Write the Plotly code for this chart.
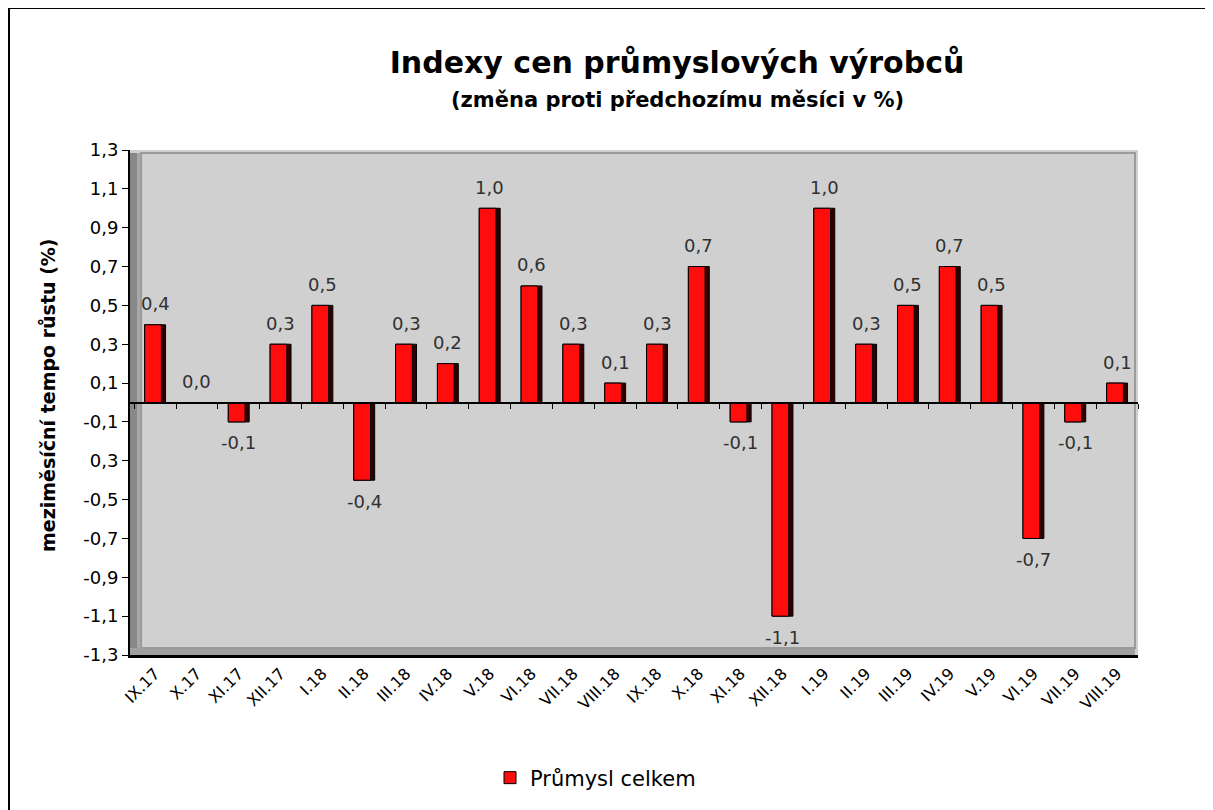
import plotly.graph_objects as go

categories = ["IX.17", "X.17", "XI.17", "XII.17", "I.18", "II.18", "III.18", "IV.18",
              "V.18", "VI.18", "VII.18", "VIII.18", "IX.18", "X.18", "XI.18", "XII.18",
              "I.19", "II.19", "III.19", "IV.19", "V.19", "VI.19", "VII.19", "VIII.19"]
values = [0.4, 0.0, -0.1, 0.3, 0.5, -0.4, 0.3, 0.2, 1.0, 0.6, 0.3, 0.1,
          0.3, 0.7, -0.1, -1.1, 1.0, 0.3, 0.5, 0.7, 0.5, -0.7, -0.1, 0.1]
ytick_vals = [1.3, 1.1, 0.9, 0.7, 0.5, 0.3, 0.1, -0.1, -0.3, -0.5, -0.7, -0.9, -1.1, -1.3]
ytick_text = ["1,3", "1,1", "0,9", "0,7", "0,5", "0,3", "0,1", "-0,1", "0,3", "-0,5",
              "-0,7", "-0,9", "-1,1", "-1,3"]
series_name = "Průmysl celkem"
title_text = "Indexy cen průmyslových výrobců"
subtitle_text = "(změna proti předchozímu měsíci v %)"
ytitle_text = "meziměsíční tempo růstu (%)"

FONT = "DejaVu Sans, Verdana, sans-serif"
W, H = 1205, 802
L, R, T, B = 122, 75, 142, 155
PW, PH = W - L - R, H - T - B   # 1008 x 505
idx = list(range(len(categories)))


def px_x(p):
    return (p - L) / PW


def px_y(p):
    return (H - B - p) / PH


fig = go.Figure()
# dark side of the pseudo-3D bars
fig.add_trace(go.Bar(
    x=idx, y=values, width=0.5,
    marker=dict(color="#300000", line=dict(color="#000000", width=1)),
    showlegend=False, hoverinfo="skip"))
# red face
fig.add_trace(go.Bar(
    x=idx, y=values, width=0.4, offset=-0.25, name=series_name,
    marker=dict(color="#ff0d0d", line=dict(color="#000000", width=1))))
# invisible helper for the zero-line axis with ticks
fig.add_trace(go.Scatter(x=idx, y=values, xaxis="x2", mode="markers",
                         marker=dict(opacity=0), showlegend=False, hoverinfo="skip"))

annotations = []
for i, v in enumerate(values):
    annotations.append(dict(
        x=i, y=v, xref="x", yref="y", text=f"{v:.1f}".replace(".", ","),
        showarrow=False, yanchor="middle", yshift=(-21 if v < 0 else 21),
        font=dict(family=FONT, size=18, color="#303030")))
annotations.append(dict(
    x=px_x(669), y=px_y(92), xref="paper", yref="paper",
    text=subtitle_text, showarrow=False, xanchor="center", yanchor="middle",
    font=dict(family=FONT, size=21, color="#000000", weight="bold")))
annotations.append(dict(
    x=px_x(40), y=px_y(387), xref="paper", yref="paper",
    text=ytitle_text, showarrow=False, xanchor="center", yanchor="middle", textangle=-90,
    font=dict(family=FONT, size=19, color="#000000", weight="bold")))

shapes = [
    # left wall
    dict(type="rect", xref="x domain", yref="y domain", x0=0, x1=0.011, y0=0, y1=0.994,
         fillcolor="#888888", line=dict(width=0), layer="below"),
    dict(type="rect", xref="x domain", yref="y domain", x0=0.007, x1=0.011, y0=0.014, y1=0.994,
         fillcolor="#a8a8a8", line=dict(width=0), layer="below"),
    # floor
    dict(type="rect", xref="x domain", yref="y domain", x0=0, x1=0.997, y0=0, y1=0.014,
         fillcolor="#a0a0a0", line=dict(width=0), layer="below"),
    # back wall border
    dict(type="rect", xref="x domain", yref="y domain", x0=0.011, x1=0.997, y0=0.014, y1=0.994,
         fillcolor="rgba(0,0,0,0)", line=dict(color="#9a9a9a", width=2), layer="below"),
    # chart border
    dict(type="rect", xref="paper", yref="paper", x0=px_x(1), x1=1.3,
         y0=-0.5, y1=px_y(0), fillcolor="rgba(0,0,0,0)",
         line=dict(color="#000000", width=2)),
]

fig.update_layout(
    width=W, height=H,
    margin=dict(l=L, r=R, t=T, b=B),
    paper_bgcolor="#ffffff", plot_bgcolor="#d0d0d0",
    barmode="overlay",
    font=dict(family=FONT, color="#000000"),
    title=dict(text=title_text, xref="container", yref="container",
               x=669 / W, y=1 - 54 / H, xanchor="center", yanchor="middle",
               font=dict(family=FONT, size=30, color="#000000", weight="bold")),
    xaxis=dict(range=[-0.6, 23.5], tickmode="array", tickvals=idx, ticktext=categories,
               tickangle=-45, ticks="", showgrid=False, zeroline=False,
               showline=True, linecolor="#000000", linewidth=3,
               tickfont=dict(family=FONT, size=16, color="#000000")),
    xaxis2=dict(range=[-0.6, 23.5], overlaying="x", anchor="free", position=0.5,
                tickmode="linear", tick0=-0.5, dtick=1, ticks="outside", ticklen=5,
                tickwidth=1, tickcolor="#000000", showticklabels=False, showgrid=False,
                zeroline=False, showline=True, linecolor="#000000", linewidth=2),
    yaxis=dict(range=[-1.3, 1.3], tickmode="array", tickvals=ytick_vals, ticktext=ytick_text,
               ticks="outside", ticklen=6, tickcolor="#000000", showgrid=False, zeroline=False,
               showline=True, linecolor="#000000", linewidth=2,
               tickfont=dict(family=FONT, size=18, color="#000000")),
    legend=dict(orientation="h", x=px_x(482), y=px_y(770),
                xanchor="left", yanchor="middle", bgcolor="rgba(0,0,0,0)",
                font=dict(family=FONT, size=21, color="#000000")),
    annotations=annotations,
    shapes=shapes,
)

fig.write_html("out.html")
